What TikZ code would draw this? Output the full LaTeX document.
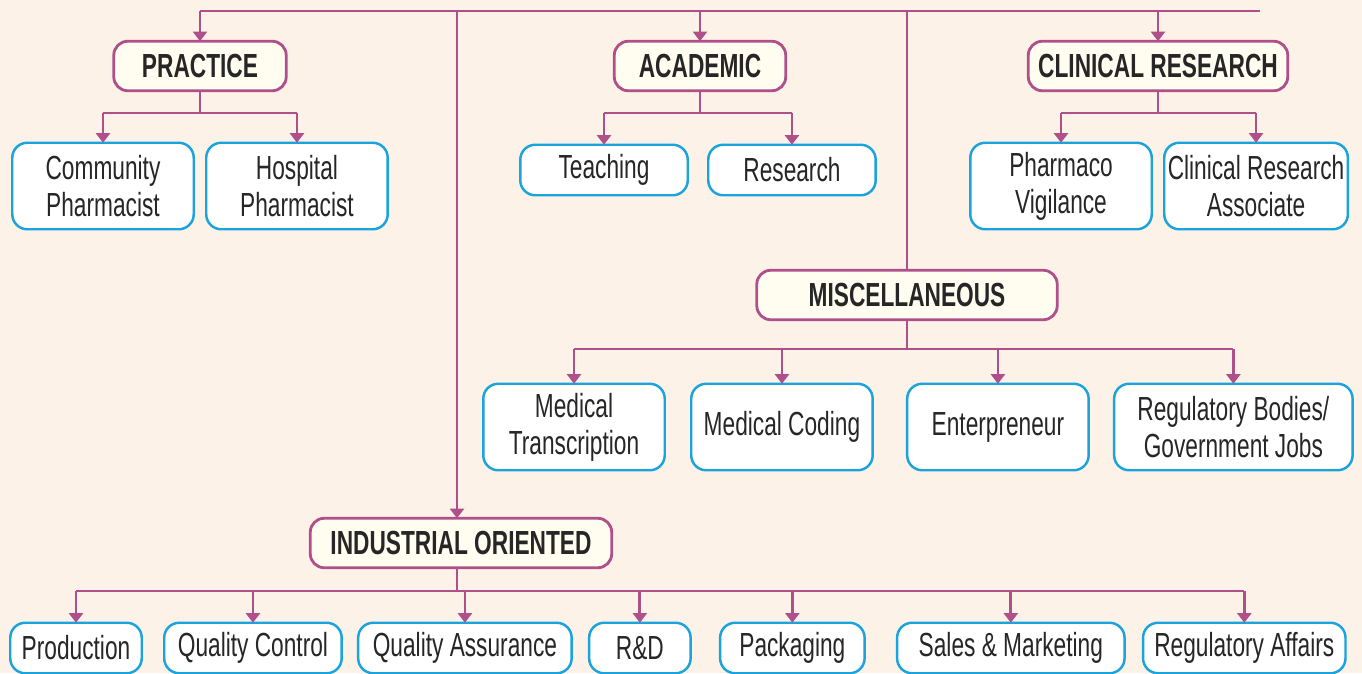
\documentclass[tikz,border=0pt]{standalone}
\usepackage{fontspec}
\setmainfont{Liberation Sans}[FakeStretch=0.68]
\usepackage{tikz}
\usetikzlibrary{
	arrows.meta,
	positioning,
	calc,
	}

\definecolor{bgcream}{HTML}{FDF2E7}
\definecolor{plum}{HTML}{B0508A}
\definecolor{skyline}{HTML}{1AA3DD}
\definecolor{headfill}{HTML}{FFFDF0}
\definecolor{inkgray}{HTML}{262626}

\tikzset{
	head/.style={draw=plum, line width=1.6pt, fill=headfill, rounded corners=0.28cm, outer sep=0pt, minimum height=0.99cm, font=\fontsize{19}{21}\selectfont\bfseries, text=inkgray, inner sep=2pt},
	leaf/.style={draw=skyline, line width=1.4pt, fill=white, rounded corners=0.3cm, outer sep=0pt, minimum width=3.63cm, minimum height=1.73cm, align=center, font=\fontsize{19}{21}\selectfont, text=inkgray, inner sep=2pt},
	small/.style={leaf, minimum height=1.01cm},
	link/.style={draw=plum, line width=1.6pt},
	arr/.style={link, -{Triangle[width=8pt,length=5.5pt]}},
}

\begin{document}
\begin{tikzpicture}[x=0.02cm, y=-0.02cm]
			\fill[bgcream] (0,0) rectangle (1362,673);
			\useasboundingbox (0,0) rectangle (1362,673);
			% main categories
			\node[head, minimum width=3.45cm] (prac) at (200,66) {PRACTICE};
			\node[head, minimum width=3.43cm] (acad) at (700,66) {ACADEMIC};
			\node[head, minimum width=5.19cm] (clin) at (1158,66) {CLINICAL RESEARCH};
			\node[head, minimum width=6.01cm] (misc) at (907,295) {MISCELLANEOUS};
			\node[head, minimum width=6.03cm] (ind) at (461,543) {INDUSTRIAL ORIENTED};
			% practice
			\node[leaf] (comm) at (103,186) {Community\\Pharmacist};
			\node[leaf, right=0.25cm of comm] (hosp) {Hospital\\Pharmacist};
			% academic
			\node[small, minimum width=3.35cm] (teach) at (604,170) {Teaching};
			\node[small, minimum width=3.35cm, right=0.41cm of teach] (resr) {Research};
			% clinical research
			\node[leaf] (pv) at (1061,186) {Pharmaco\\Vigilance};
			\node[leaf, right=0.25cm of pv] (cra) {Clinical Research\\Associate};
			% miscellaneous
			\node[leaf] (mtr) at (574,427) {Medical\\Transcription};
			\node[leaf, right=0.53cm of mtr] (mcod) {Medical Coding};
			\node[leaf, right=0.69cm of mcod] (entr) {Enterpreneur};
			\node[leaf, minimum width=4.77cm, right=0.51cm of entr] (regb) {Regulatory Bodies/\\Government Jobs};
			% industrial
			\node[small, minimum width=2.63cm] (prod) at (76,648) {Production};
			\node[small, minimum width=3.55cm, right=0.45cm of prod] (qc) {Quality Control};
			\node[small, minimum width=4.27cm, right=0.33cm of qc] (qa) {Quality Assurance};
			\node[small, minimum width=2.03cm, right=0.35cm of qa] (rnd) {R\&D};
			\node[small, minimum width=2.89cm, right=0.59cm of rnd] (pack) {Packaging};
			\node[small, minimum width=4.55cm, right=0.65cm of pack] (sales) {Sales \& Marketing};
			\node[small, minimum width=4.05cm, right=0.37cm of sales] (rega) {Regulatory Affairs};

			% top bus
			\coordinate (busL) at (200,11);
			\coordinate (busR) at (1260,11);
			\coordinate (indTop) at (457,11);
			\draw[link] (busL) -- (busR);
			\draw[arr] (prac |- busL) -- (prac);
			\draw[arr] (acad |- busL) -- (acad);
			\draw[arr] (clin |- busL) -- (clin);
			\draw[link] (misc |- busL) -- (misc);
			\draw[arr] (indTop) -- (indTop |- ind.north);

			% branches
			\coordinate (pracBr) at (0,113);
			\draw[link] (prac) -- (prac |- pracBr);
			\draw[link] (comm |- pracBr) -- (hosp |- pracBr);
			\foreach \c in {comm,hosp} \draw[arr] (\c |- pracBr) -- (\c);

			\draw[link] (acad) -- (acad |- pracBr);
			\draw[link] (teach |- pracBr) -- (resr |- pracBr);
			\foreach \c in {teach,resr} \draw[arr] (\c |- pracBr) -- (\c);

			\draw[link] (clin) -- (clin |- pracBr);
			\draw[link] (pv |- pracBr) -- (cra |- pracBr);
			\foreach \c in {pv,cra} \draw[arr] (\c |- pracBr) -- (\c);

			\coordinate (miscBr) at (0,349);
			\draw[link] (misc) -- (misc |- miscBr);
			\draw[link] (mtr |- miscBr) -- (regb |- miscBr);
			\foreach \c in {mtr,mcod,entr,regb} \draw[arr] (\c |- miscBr) -- (\c);

			\coordinate (indBr) at (0,591);
			\draw[link] (indTop |- ind.south) -- (indTop |- indBr);
			\draw[link] (prod |- indBr) -- (rega |- indBr);
			\foreach \c in {prod,qc,qa,rnd,pack,sales,rega} \draw[arr] (\c |- indBr) -- (\c);
		\end{tikzpicture}
\end{document}
